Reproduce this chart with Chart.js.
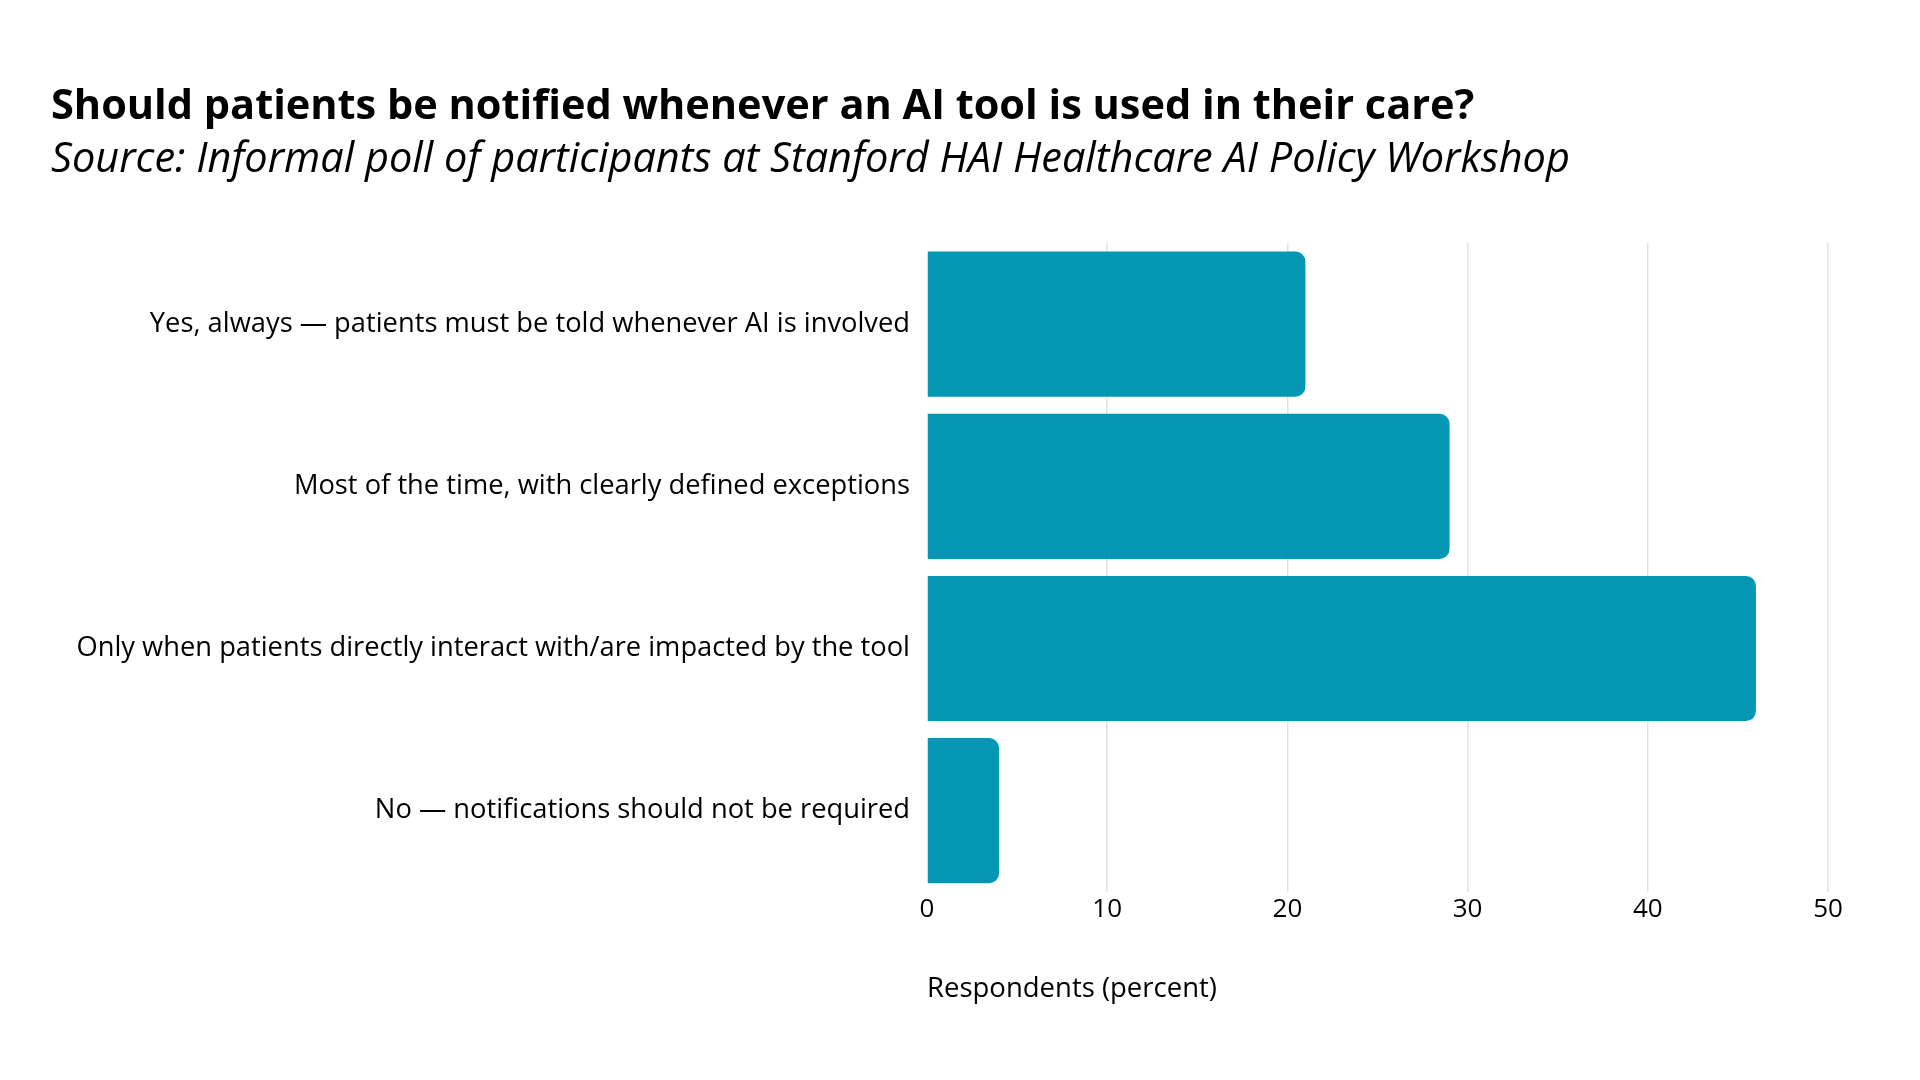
<!DOCTYPE html>
<html>
<head>
<meta charset="utf-8">
<script src="https://cdn.jsdelivr.net/npm/chart.js@4.4.1/dist/chart.umd.min.js"></script>
<style>
  html, body { margin: 0; padding: 0; background: #ffffff; }
  #wrap { width: 1920px; height: 1080px; }
</style>
</head>
<body>
<div id="wrap"><canvas id="chartNotificacion" width="1920" height="1080"></canvas></div>
<script>
// Datos del gráfico
const categorias = [
    'Yes, always \u2014 patients must be told whenever AI is involved',
    'Most of the time, with clearly defined exceptions',
    'Only when patients directly interact with/are impacted by the tool',
    'No \u2014 notifications should not be required'
];
const porcentajes = [21, 29, 46, 4];
const ticksX = [0, 10, 20, 30, 40, 50];

const titulo = 'Should patients be notified whenever an AI tool is used in their care?';
const subtitulo = 'Source: Informal poll of participants at Stanford HAI Healthcare AI Policy Workshop';
const tituloEje = 'Respondents (percent)';

const fuente = "'Open Sans', 'Noto Sans', sans-serif";

const ctx = document.getElementById('chartNotificacion').getContext('2d');
new Chart(ctx, {
    type: 'bar',
    data: {
        labels: categorias,
        datasets: [{
            data: porcentajes,
            backgroundColor: '#0397b3',
            borderRadius: { topRight: 10, bottomRight: 10, topLeft: 0, bottomLeft: 0 },
            borderSkipped: false,
            barPercentage: 0.895,
            categoryPercentage: 1
        }]
    },
    options: {
        indexAxis: 'y',
        responsive: false,
        animation: false,
        layout: {
            padding: { top: 40, left: 51, right: 92, bottom: 74.5 }
        },
        plugins: {
            legend: { display: false },
            tooltip: { enabled: false },
            title: {
                display: true,
                text: titulo,
                align: 'start',
                color: '#000000',
                font: { family: fuente, size: 41.5, weight: 'bold', lineHeight: 1.2 },
                padding: { top: 42, bottom: 0 }
            },
            subtitle: {
                display: true,
                text: subtitulo,
                align: 'start',
                color: '#000000',
                font: { family: fuente, size: 41.5, style: 'italic', lineHeight: 1.2 },
                padding: { top: 3, bottom: 58.4 }
            }
        },
        scales: {
            x: {
                min: 0,
                max: 50,
                afterBuildTicks: (scale) => {
                    scale.ticks = ticksX.map(v => ({ value: v }));
                },
                grid: {
                    color: (c) => c.tick && c.tick.value === 0 ? 'rgba(0,0,0,0)' : '#e2e2e2',
                    lineWidth: 1.5,
                    drawTicks: false
                },
                border: { display: false },
                ticks: {
                    color: '#000000',
                    padding: 2,
                    font: { family: fuente, size: 26 }
                },
                title: {
                    display: true,
                    text: tituloEje,
                    align: 'start',
                    color: '#000000',
                    font: { family: fuente, size: 27.5 },
                    padding: { top: 45.5, bottom: 0 }
                }
            },
            y: {
                afterFit: (scale) => {
                    scale.width = 927 - 51;
                },
                grid: { display: false },
                border: { display: false },
                ticks: {
                    color: '#000000',
                    padding: 9,
                    font: { family: fuente, size: 27.3 }
                }
            }
        }
    }
});
</script>
</body>
</html>
